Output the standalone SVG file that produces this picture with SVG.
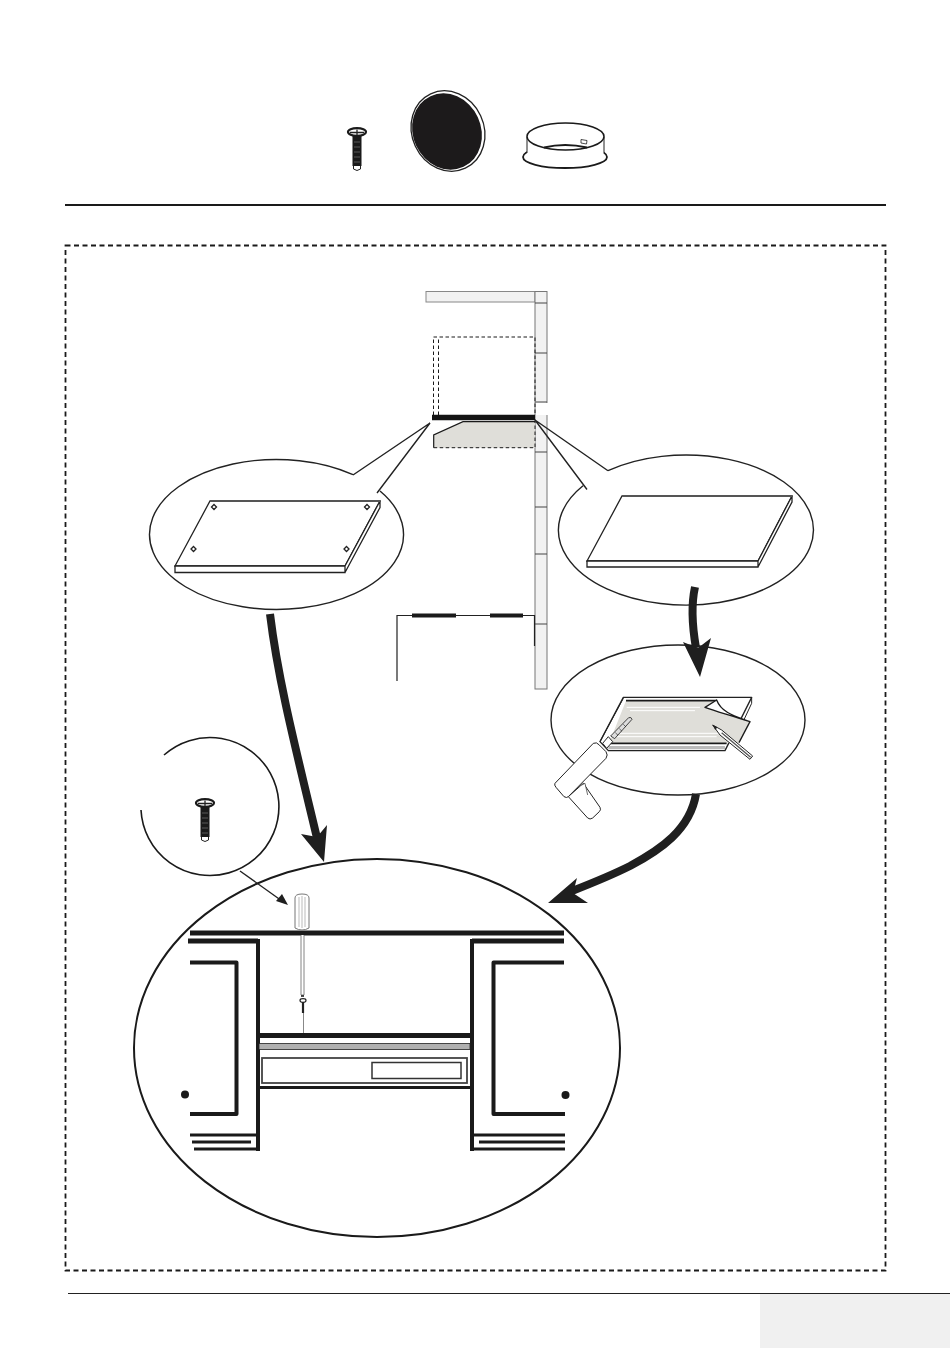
<svg xmlns="http://www.w3.org/2000/svg" width="950" height="1348" viewBox="0 0 950 1348">
<style>
.o{fill:none;stroke:#222;stroke-width:1.4}
.k{fill:none;stroke:#1a1a1a}
.w{fill:#fff;stroke:#222;stroke-width:1.3}
.a{fill:none;stroke:#1f1f1f;stroke-width:8}
.h{fill:#1f1f1f}
.t{stroke:#444;stroke-width:1.2;fill:none}
.d{fill:none;stroke:#1a1a1a;stroke-width:1;stroke-dasharray:3.5 2.5}
.z{fill:none;stroke:#1a1a1a;stroke-width:3}
</style>
<defs>
<g id="screw">
<path d="M353.500 165 L353.500 169 Q357 172 360.500 169 L360.500 165 Z" fill="#fff" stroke="#222" stroke-width="1"/>
<rect x="352.500" y="136" width="9" height="30" fill="#1a1a1a"/>
<path d="M354 142H360M354 147H360M354 152H360M354 157H360M354 162H360" stroke="#777" stroke-width="0.700"/>
<ellipse cx="357" cy="132" rx="9" ry="3.800" fill="#fff" stroke="#1a1a1a" stroke-width="2.200"/>
<path d="M350 132.500H364M357 129.500V135" stroke="#222" stroke-width="1.300"/>
</g>
</defs>
<rect id="footer-panel" x="760" y="1294" width="190" height="54" fill="#f0f0f0"/>
<path d="M68 1293.500H950" stroke="#222" stroke-width="1"/>
<path d="M65 205H886" stroke="#1a1a1a" stroke-width="2"/>
<rect id="frame" x="65.500" y="245.500" width="820" height="1025" fill="none" stroke="#1a1a1a" stroke-width="1.800" stroke-dasharray="5 3.500"/>

<g id="part-screw"><use href="#screw"/></g>
<g id="part-cap">
<ellipse cx="448" cy="131" rx="36" ry="41" transform="rotate(-25 448 131)" fill="#fff" stroke="#222" stroke-width="1.300"/>
<ellipse cx="447" cy="131.500" rx="34" ry="39" transform="rotate(-25 447 131.500)" fill="#1c1a1b"/>
</g>
<g id="part-ring">
<ellipse cx="565" cy="157" rx="42" ry="11" fill="#fff" stroke="#1a1a1a" stroke-width="1.800"/>
<path d="M527 137 V153 C532 159 550 161.500 565 161.500 C580 161.500 598 159 604 153 V137 Z" fill="#fff"/>
<path d="M527 137V153M604 137V153" stroke="#222" stroke-width="1"/>
<ellipse cx="565.500" cy="136.500" rx="38.500" ry="13.500" fill="#fff" stroke="#1a1a1a" stroke-width="1.600"/>
<path d="M544 147.500 Q565 142.500 587 147.500" fill="none" stroke="#1a1a1a" stroke-width="1.800"/>
<path d="M581 139.500L587 140.500L586.500 144L581 143Z" fill="#fff" stroke="#222" stroke-width="0.800"/>
</g>

<g id="wall-section">
<rect x="426" y="291.500" width="109" height="10.500" fill="#f2f2f2" stroke="#888" stroke-width="1"/>
<rect x="535" y="291.500" width="12" height="397.500" fill="#f2f2f2" stroke="#777" stroke-width="1"/>
<rect x="536" y="403" width="12.500" height="12" fill="#fff"/>
<path class="t" d="M535 303H547M535 353H547M535 402H547M535 452H547M535 507H547M535 554H547M535 624H547"/>
<path d="M397 681V615.500H534.500V646" fill="none" stroke="#222" stroke-width="1.200"/>
<path d="M412 615.500H456M490 615.500H523" stroke="#1a1a1a" stroke-width="4"/>
</g>
<g id="cabinet-shelf">
<path d="M433.700 435L463 421.700H535V447.700H433.700Z" fill="#dfded9"/>
<path d="M433.700 447.700V435L463 421.700H535" fill="none" stroke="#1a1a1a" stroke-width="1.200"/>
<path class="d" d="M433.700 447.700H535V421M433.500 415V337H535V415M438.500 415V337"/>
<path d="M432 417.500H535" stroke="#141414" stroke-width="5.500"/>
</g>

<g id="callout-left">
<path class="o" d="M353 474.600 A127 75 0 1 0 380 491 M377 493 L430 423 L353 475"/>
<path class="w" d="M210 501H380L345 566H175Z"/>
<path class="w" d="M175 566H345V572.500H175ZM345 566L380 501V507.500L345 572.500Z"/>
<path d="M210 501H380" stroke="#555" stroke-width="1.800"/>
<path class="w" d="M214 504.500l2.500 2.500l-2.500 2.500l-2.500-2.500ZM367 504.500l2.500 2.500l-2.500 2.500l-2.500-2.500ZM193.500 546.500l2.500 2.500l-2.500 2.500l-2.500-2.500ZM346.500 546.500l2.500 2.500l-2.500 2.500l-2.500-2.500Z"/>
</g>
<g id="callout-right">
<path class="o" d="M608 470.700 A127.500 75 0 1 1 583 485.800 M587 489.500 L535 420 L608 470.700"/>
<path class="w" d="M622 496H792L758 561H587Z"/>
<path class="w" d="M587 561H758V567H587ZM758 561L792 496V502L758 567Z"/>
<path d="M622 496H792" stroke="#555" stroke-width="1.800"/>
</g>
<g id="callout-glue">
<ellipse class="o" cx="678" cy="720" rx="127" ry="75"/>
<g transform="translate(540 670) scale(0.3333)" stroke-linejoin="round">
<path d="M250 82H635L555 242H205L180 215Z" fill="#fff" stroke="#222" stroke-width="4"/>
<path d="M635 82V100L600 175" fill="none" stroke="#222" stroke-width="3"/>
<path d="M258 92H530L495 112L630 155L597 218H208Z" fill="#dfded9"/>
<path d="M258 92H530M208 220H560" stroke="#1a1a1a" stroke-width="5"/>
<path d="M630 155L597 218" stroke="#1a1a1a" stroke-width="4"/>
<path d="M530 90L495 112C530 125 570 135 630 155C590 140 545 130 530 90Z" fill="#fff" stroke="#1a1a1a" stroke-width="4"/>
<path d="M260 112H480M270 122H465M230 190H540M220 200H530" stroke="#fff" stroke-width="3"/>
<path d="M205 228H555V238H205Z" fill="#bbb"/>
<path d="M518 165L545 180L638 258L630 268L540 195Z" fill="#fff" stroke="#222" stroke-width="3"/>
<path d="M545 188L632 262" stroke="#555" stroke-width="4"/>
<path d="M518 165L532 172L526 180Z" fill="#222"/>
<path d="M180 215L250 85" stroke="#222" stroke-width="3"/>
<path d="M212 198L266 143Q274 140 276 148L224 206Z" fill="#ddd" stroke="#222" stroke-width="2.500"/>
<path d="M226 188L234 196M238 176L246 184M250 163L258 171" stroke="#222" stroke-width="2"/>
<path d="M188 220L205 200L218 215L200 235Z" fill="#fff" stroke="#222" stroke-width="3"/>
<path d="M85 380L130 340L180 412Q184 420 178 425L158 444Q150 450 143 444Z" fill="#fff" stroke="#222" stroke-width="3"/>
<path d="M120 348L135 340L143 375" fill="#fff" stroke="#222" stroke-width="2"/>
<path d="M45 340L160 220Q170 215 178 225L198 245Q205 255 198 265L85 380Q80 385 72 380L48 352Q42 345 45 340Z" fill="#fff" stroke="#222" stroke-width="3"/>
</g>
</g>
<g id="callout-screw">
<path d="M164 755 A69 69 0 1 1 141 810" fill="none" stroke="#1a1a1a" stroke-width="1.600"/>
<use href="#screw" transform="translate(-152 671)"/>
</g>
<g id="detail-main">
<ellipse cx="377" cy="1048" rx="243" ry="189" fill="none" stroke="#1a1a1a" stroke-width="2"/>
<path class="k" stroke-width="5" d="M190 933H564"/>
<path class="k" stroke-width="5" d="M188 941H258M472 941H564"/>
<path class="k" stroke-width="4" d="M258 939V1151M472 939V1151"/>
<path class="k" stroke-width="4" stroke-linejoin="round" d="M190 962.500H236.500V1114H190M564 962.500H493.500V1114H565"/>
<circle cx="185" cy="1094.500" r="4" fill="#1a1a1a"/>
<circle cx="565.500" cy="1095" r="4" fill="#1a1a1a"/>
<path class="z" d="M190 1135H257M192 1142H251M194 1149H257M473 1135H565M479 1142H565M471 1149H565"/>
<path class="k" stroke-width="5" d="M258 1035.500H472"/>
<rect x="259" y="1043.500" width="211" height="6" fill="#b0b0b0" stroke="#222" stroke-width="0.800"/>
<rect x="262" y="1058" width="205" height="25" fill="#fff" stroke="#444" stroke-width="1.800"/>
<rect x="372" y="1062.500" width="89" height="16" fill="#fff" stroke="#333" stroke-width="1.500"/>
<path class="z" d="M258 1087.500H472"/>
<g id="screwdriver">
<path d="M295 898Q295 894 302 894Q309 894 309 898V928Q302 932 295 928Z" fill="#fff" stroke="#777" stroke-width="1"/>
<path d="M299 897V927M302 896V928M305 897V927" stroke="#aaa" stroke-width="0.800"/>
<path d="M301 935V995H304V935" fill="#fff" stroke="#666" stroke-width="0.800"/>
<path d="M301 996H304" stroke="#111" stroke-width="1.500"/>
<ellipse cx="303" cy="1000.500" rx="3" ry="1.800" fill="#fff" stroke="#222" stroke-width="1.200"/>
<path d="M303 1002V1013" stroke="#222" stroke-width="2.200"/>
<path d="M303.500 1013V1033" stroke="#555" stroke-width="0.700"/>
</g>
</g>

<g id="connectors">
<path class="a" d="M270 614 C278 680 296 750 317 838"/>
<polygon class="h" points="324,862 301,834 317,837 327,825"/>
<path class="a" d="M695 587 C691 605 692 625 696 648"/>
<polygon class="h" points="700,677 683,642 698,648 711,638"/>
<path class="a" d="M696 794 C690 830 660 850 630 866 C610 876 595 882 572 891"/>
<polygon class="h" points="548,903 577,878 573,893 588,903"/>
<path class="o" d="M240 871L282 901"/>
<polygon class="h" points="288,905 276,901 282,894"/>
</g>
</svg>
